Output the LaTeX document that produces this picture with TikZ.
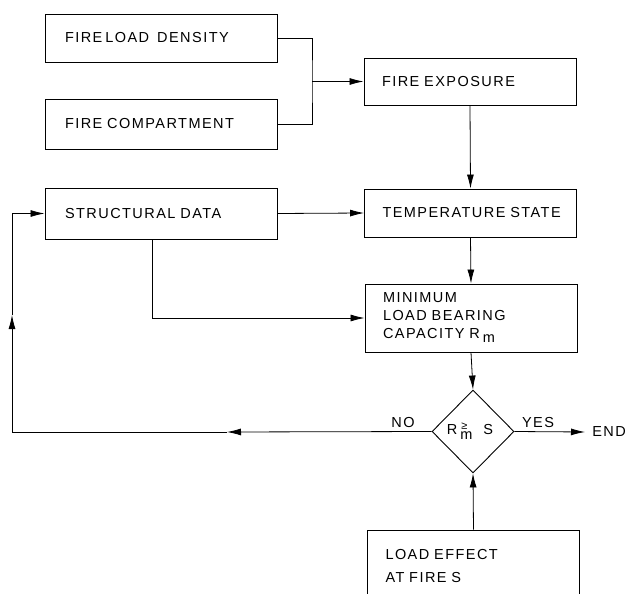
\documentclass[tikz,border=0pt]{standalone}
\usepackage{fontspec}
\setmainfont{Liberation Sans}[LetterSpace=10]
\usetikzlibrary{arrows.meta,shapes.geometric}
\begin{document}
\begin{tikzpicture}[x=1pt,y=-1pt,
  txt/.style={font=\fontsize{14.5}{18}\selectfont},
  box/.style={draw, line width=0.9pt, rectangle, inner ysep=0pt, align=left, txt},
  lbox/.style={box, inner xsep=20pt, text width=192pt, minimum width=232pt},
  rbox/.style={box, inner xsep=18pt, text width=176pt, minimum width=212pt},
  ln/.style={line width=0.8pt},
  arr/.style={ln, -{Latex[length=14pt,width=7pt]}}]
\useasboundingbox (0,0) rectangle (627,594);
\clip (0,0) rectangle (627,594);

\node[lbox, minimum height=48pt] (fld) at (161,38) {FIRE\hspace{3pt}LOAD\hspace{8pt}DENSITY};
\node[lbox, minimum height=50pt] (fc) at (161,124) {FIRE COMPARTMENT};
\node[lbox, minimum height=51pt] (sd) at (161,213.5) {STRUCTURAL DATA};
\node[rbox, minimum height=47pt] (fe) at (470,81.5) {FIRE EXPOSURE};
\node[rbox, minimum height=48pt] (ts) at (470.5,213) {TEMPERATURE~STATE};
\node[rbox, minimum height=68pt] (mr) at (471,318) {MINIMUM\\LOAD BEARING\\CAPACITY R\hspace{3pt}\raisebox{-4pt}{m}};
\node[draw, line width=0.9pt, diamond, aspect=1, inner sep=0pt, minimum width=82pt, minimum height=83pt, txt] (dia) at (473,431.5)
  {\hspace{-6pt}R\hspace{3pt}\rlap{\raisebox{-5pt}{m}}\hspace{1pt}\raisebox{5pt}{\fontsize{11}{11}\selectfont ≥}\hspace{16pt}S};
\node[rbox, minimum height=73pt, inner xsep=18pt] (le) at (473.5,566.5) {LOAD EFFECT\\[5pt]AT FIRE S};
\node[txt, anchor=east, inner sep=0pt] (end) at (626,432) {END};
\node[txt, inner sep=0pt] (yes) at (538,423) {YES};
\node[txt, inner sep=0pt] (no) at (403,423) {NO};

\coordinate (j) at (312,81.5);
\draw[ln] (fld.east) -| (j) |- (fc.east);
\draw[arr] (j) -- (fe.west);
\draw[arr] (fe.south) -- (ts.north);
\draw[arr] (sd.east) -- (ts.west);
\draw[arr] (ts.south) -- (mr.north);
\coordinate (sdb) at (152,239);
\draw[arr] (sdb) |- (mr.west);
\draw[arr] (mr.south) -- (dia.north);
\draw[arr] (le.north) -- (dia.south);
\coordinate (ye) at (585,432);
\draw[arr] (dia.east) -- (ye);
\coordinate (nm) at (227,432);
\coordinate (bl) at (12,432);
\coordinate (um) at (12,315);
\draw[arr] (dia.west) -- (nm);
\draw[ln] (nm) -- (bl);
\draw[arr] (bl) -- (um);
\draw[arr] (um) |- (sd.west);
\end{tikzpicture}
\end{document}
